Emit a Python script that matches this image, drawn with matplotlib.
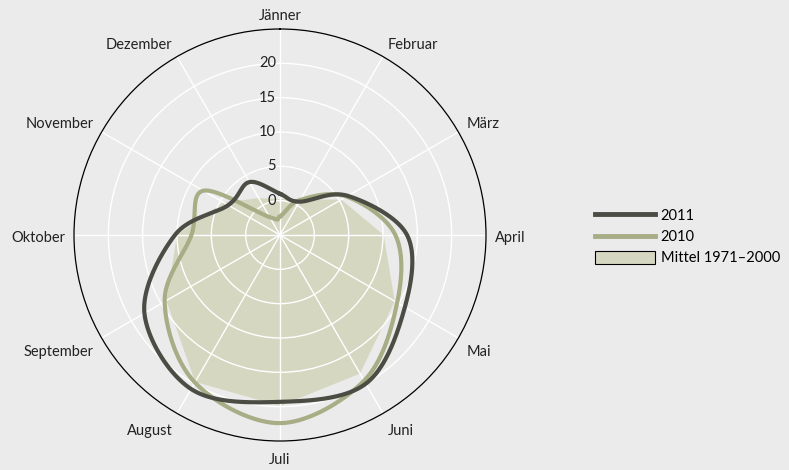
import numpy as np
import matplotlib
matplotlib.use("Agg")
import matplotlib.pyplot as plt
from matplotlib.transforms import offset_copy
from matplotlib.patches import Patch
from matplotlib.lines import Line2D

# ---- data ----
months = ["Jänner", "Februar", "März", "April", "Mai", "Juni",
          "Juli", "August", "September", "Oktober", "November", "Dezember"]
t2011 = [1.0, 0.6, 6.4, 13.5, 16.0, 20.0, 19.3, 20.9, 17.8, 10.3, 3.7, 3.9]
t2010 = [-2.3, 0.9, 6.2, 11.8, 14.7, 19.5, 22.4, 19.8, 14.4, 7.9, 7.9, -2.0]
mittel = [0.25, 1.0, 5.3, 10.1, 14.3, 18.3, 19.9, 19.7, 14.1, 10.0, 4.5, 1.2]
rticks = [0, 5, 10, 15, 20]
legend_labels = ["2011", "2010", "Mittel 1971\u20132000"]

RMIN, RMAX = -5, 25
BG = "#ebebeb"
C2011 = "#4b4c43"
C2010 = "#a8ad86"
CFILL = "#d5d7c1"

plt.rcParams["font.family"] = ["Lato", "DejaVu Sans"]
FS = 10.5

theta = np.deg2rad(np.arange(len(months)) * 30.0)


def _cart(th, r):
    rr = np.asarray(r, float) - RMIN
    return np.column_stack([rr * np.sin(th), rr * np.cos(th)])


def _back(Q):
    th = np.unwrap(np.arctan2(Q[:, 0], Q[:, 1]))
    return th, np.hypot(Q[:, 0], Q[:, 1]) + RMIN


def smooth_closed(th, r, n=40):
    P = _cart(th, r)
    N = len(P)
    t = np.linspace(0, 1, n, endpoint=False)[:, None]
    out = []
    for i in range(N):
        p0, p1, p2, p3 = P[(i - 1) % N], P[i], P[(i + 1) % N], P[(i + 2) % N]
        seg = 0.5 * (2 * p1 + (-p0 + p2) * t + (2 * p0 - 5 * p1 + 4 * p2 - p3) * t ** 2
                     + (-p0 + 3 * p1 - 3 * p2 + p3) * t ** 3)
        out.append(seg)
    out.append(P[:1])
    return _back(np.vstack(out))


def chords_closed(th, r, n=20):
    P = _cart(th, r)
    N = len(P)
    t = np.linspace(0, 1, n, endpoint=False)[:, None]
    out = [P[i] + (P[(i + 1) % N] - P[i]) * t for i in range(N)]
    out.append(P[:1])
    return _back(np.vstack(out))


fig = plt.figure(figsize=(7.89, 4.70), dpi=100, facecolor=BG)
W, H = 789, 470
cx, cy, R = 280, 235, 206
ax = fig.add_axes([(cx - R) / W, (H - cy - R) / H, 2 * R / W, 2 * R / H], projection="polar")
ax.set_facecolor(BG)
ax.set_theta_zero_location("N")
ax.set_theta_direction(-1)
ax.set_ylim(RMIN, RMAX)
ax.set_yticks(rticks)
ax.set_yticklabels([])
ax.set_xticks(theta)
ax.set_xticklabels([])
ax.tick_params(length=0)
ax.grid(True, color="white", lw=1.0)
ax.spines["polar"].set_color("black")
ax.spines["polar"].set_linewidth(0.9)

# mean polygon
fth, fr = chords_closed(theta, mittel)
ax.fill(fth, fr, color=CFILL, lw=0, zorder=1)

# smooth year lines
th10, r10 = smooth_closed(theta, t2010)
ax.plot(th10, r10, color=C2010, lw=3.0, zorder=3, solid_joinstyle="round")
th11, r11 = smooth_closed(theta, t2011)
ax.plot(th11, r11, color=C2011, lw=3.0, zorder=4, solid_joinstyle="round")

# radial labels
tr = offset_copy(ax.transData, fig=fig, x=-4, y=0, units="dots")
for v in rticks:
    ax.text(0, v, str(v), transform=tr, ha="right", va="center",
            fontsize=FS, color="#222222")

# month labels
rlab = 26.3
trm = offset_copy(ax.transData, fig=fig, x=0, y=-3, units="dots")
for th, m in zip(theta, months):
    s, c = np.sin(th), np.cos(th)
    ha = "center" if abs(s) < 0.1 else ("left" if s > 0 else "right")
    va = "center" if abs(c) < 0.1 else ("bottom" if c > 0 else "top")
    ax.text(th, rlab, m, transform=trm, ha=ha, va=va, fontsize=FS,
            color="#222222", clip_on=False)

handles = [Line2D([], [], color=C2011, lw=3.5),
           Line2D([], [], color=C2010, lw=3.5),
           Patch(facecolor=CFILL, edgecolor="black", lw=0.8)]
fig.legend(handles, legend_labels, loc="center left",
           bbox_to_anchor=(595 / W, 1 - 237 / H), frameon=False,
           fontsize=FS, handlelength=4.1, handleheight=1.0, handletextpad=0.4,
           labelspacing=0.45, borderpad=0, borderaxespad=0)

fig.savefig("out.png", dpi=100, facecolor=BG)
